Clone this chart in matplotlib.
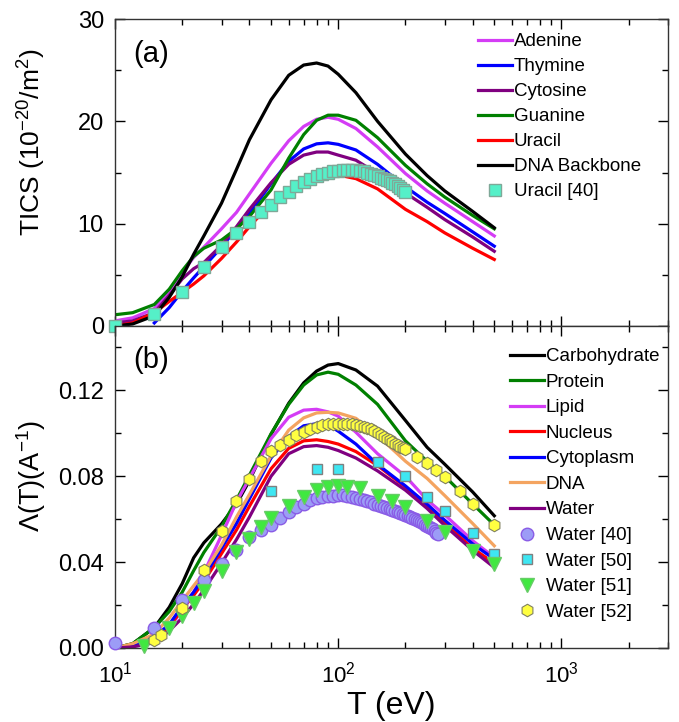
import matplotlib
matplotlib.use('Agg')
import matplotlib.pyplot as plt
from matplotlib.ticker import MultipleLocator, LogLocator, NullFormatter, LogFormatterMathtext, FormatStrFormatter

plt.rcParams['font.family'] = ['Liberation Sans', 'DejaVu Sans']
plt.rcParams['mathtext.fontset'] = 'custom'
plt.rcParams['mathtext.rm'] = 'Liberation Sans'
plt.rcParams['mathtext.it'] = 'Liberation Sans:italic'
plt.rcParams['mathtext.bf'] = 'Liberation Sans:bold'
plt.rcParams['mathtext.default'] = 'regular'

# ---------------- data: panel (a) ----------------
T_lines = [10, 12, 15, 17.5, 20, 22.5, 25, 30, 35, 40, 50, 60, 70, 80, 90, 100, 120, 150, 200, 250, 300, 400, 500]
T_thymine = [15, 17.5, 20, 22.5, 25, 30, 35, 40, 50, 60, 70, 80, 90, 100, 120, 150, 200, 250, 300, 400, 500]

adenine = [0.5, 0.8, 1.7, 3.4, 5.2, 6.7, 7.7, 9.5, 11.1, 12.9, 15.9, 18.1, 19.5, 20.2, 20.4, 20.2, 19.3, 17.5, 14.9, 13.2, 12.0, 10.2, 8.8]
thymine = [0.3, 1.8, 3.4, 4.7, 5.8, 7.7, 9.5, 11.0, 13.9, 16.1, 17.3, 17.8, 17.9, 17.75, 17.2, 15.8, 13.6, 12.1, 11.0, 9.2, 7.8]
cytosine = [0.3, 0.5, 1.3, 3.0, 4.6, 5.6, 6.2, 7.9, 9.7, 11.4, 14.0, 15.8, 16.7, 17.0, 17.0, 16.7, 16.2, 14.9, 13.0, 11.6, 10.4, 8.7, 7.3]
guanine = [1.1, 1.3, 2.1, 3.6, 5.4, 6.8, 7.6, 8.4, 9.5, 10.7, 13.3, 16.4, 18.7, 20.1, 20.6, 20.6, 20.1, 18.4, 15.7, 13.9, 12.6, 10.8, 9.5]
uracil = [0.0, 0.3, 1.3, 2.4, 3.3, 4.1, 4.9, 6.6, 8.2, 9.7, 12.0, 13.4, 14.2, 14.6, 14.75, 14.75, 14.4, 13.4, 11.4, 10.2, 9.1, 7.6, 6.5]
dna_backbone = [0.0, 0.2, 1.0, 2.8, 4.8, 7.0, 8.8, 12.0, 15.3, 18.2, 22.1, 24.5, 25.5, 25.7, 25.4, 24.6, 22.8, 20.0, 16.8, 14.7, 13.2, 11.2, 9.6]

T_uracil40 = [10, 15, 20, 25, 30, 35, 40, 45, 50, 55, 60, 65, 70, 75, 80, 85, 90, 95, 100,
              105, 110, 115, 120, 125, 130, 135, 140, 145, 150, 155, 160, 165, 170, 175, 180, 185, 190, 195, 200]
uracil40 = [0.0, 1.2, 3.3, 5.8, 7.75, 9.1, 10.2, 11.1, 11.8, 12.6, 13.1, 13.7, 14.1, 14.4, 14.7, 14.9, 15.0, 15.1, 15.1,
            15.2, 15.2, 15.2, 15.2, 15.15, 15.1, 15.0, 14.9, 14.8, 14.65, 14.5, 14.4, 14.3, 14.15, 14.0, 13.85, 13.7, 13.5, 13.3, 13.1]

# ---------------- data: panel (b) ----------------
carbohydrate = [0.0, 0.002, 0.0095, 0.019, 0.030, 0.042, 0.049, 0.0578, 0.067, 0.078, 0.0995, 0.114, 0.1235, 0.129, 0.1318, 0.1325, 0.1295, 0.122, 0.106, 0.0935, 0.0856, 0.0727, 0.0616]
protein = [0.0, 0.002, 0.0095, 0.017, 0.026, 0.036, 0.0445, 0.0565, 0.069, 0.0805, 0.0998, 0.1135, 0.1225, 0.1272, 0.1285, 0.1275, 0.1225, 0.1135, 0.0965, 0.087, 0.080, 0.0671, 0.0573]
lipid = [0.0, 0.001, 0.004, 0.0095, 0.0175, 0.026, 0.035, 0.0525, 0.068, 0.079, 0.0975, 0.1075, 0.1108, 0.1112, 0.110, 0.108, 0.1005, 0.0905, 0.080, 0.069, 0.062, 0.050, 0.0422]
nucleus = [0.0, 0.001, 0.004, 0.010, 0.018, 0.0245, 0.031, 0.044, 0.055, 0.066, 0.0835, 0.093, 0.0965, 0.097, 0.0962, 0.095, 0.0915, 0.085, 0.075, 0.0665, 0.058, 0.0465, 0.0394]
cytoplasm = [0.0, 0.001, 0.005, 0.011, 0.0195, 0.026, 0.033, 0.0465, 0.058, 0.0695, 0.0885, 0.0985, 0.1035, 0.1045, 0.104, 0.101, 0.095, 0.0855, 0.0755, 0.067, 0.0595, 0.0485, 0.0414]
dna = [0.0, 0.002, 0.0065, 0.014, 0.022, 0.029, 0.035, 0.048, 0.061, 0.0715, 0.0895, 0.1015, 0.1072, 0.1095, 0.1098, 0.1095, 0.107, 0.099, 0.087, 0.079, 0.071, 0.058, 0.0476]
water = [0.0, 0.0005, 0.0025, 0.008, 0.014, 0.0205, 0.027, 0.0395, 0.0505, 0.061, 0.080, 0.0905, 0.0938, 0.0943, 0.0935, 0.092, 0.0885, 0.0825, 0.0735, 0.065, 0.057, 0.0455, 0.0375]

T_w40 = [10, 15, 20, 25, 30, 35, 40, 45, 50, 55, 60, 65, 70, 75, 80, 85, 90, 95, 100, 105, 110, 115, 120, 125,
         130, 135, 140, 145, 150, 155, 160, 165, 170, 175, 180, 185, 190, 195, 200, 205, 210, 215, 220, 225,
         230, 235, 240, 245, 250, 255, 260, 265, 270, 275, 280]
w40 = [0.0025, 0.0095, 0.0225, 0.0318, 0.039, 0.0456, 0.0518, 0.0548, 0.0574, 0.0605, 0.0635, 0.0655, 0.0673, 0.0688,
       0.0697, 0.0703, 0.0707, 0.071, 0.0712, 0.0712, 0.071, 0.0705, 0.070, 0.0694, 0.0688, 0.0683, 0.0678, 0.0672,
       0.0667, 0.0662, 0.0657, 0.0652, 0.0648, 0.0644, 0.064, 0.0635, 0.063, 0.0625, 0.062, 0.0615, 0.061, 0.0605,
       0.060, 0.0595, 0.059, 0.0585, 0.058, 0.0575, 0.057, 0.0565, 0.056, 0.0553, 0.0545, 0.0538, 0.053]

T_w50 = [50, 80, 100, 150, 200, 250, 300, 400, 500]
w50 = [0.0733, 0.0834, 0.0834, 0.0868, 0.080, 0.0702, 0.064, 0.0538, 0.0437]

T_w51 = [13.5, 17.5, 20, 22.5, 25, 30, 35, 40, 45, 50, 60, 70, 80, 90, 100, 110, 125, 150, 175, 200, 250, 300, 400, 500]
w51 = [0.001, 0.0095, 0.015, 0.021, 0.0266, 0.036, 0.0445, 0.0507, 0.0562, 0.0606, 0.0663, 0.0702, 0.0738, 0.075,
       0.0756, 0.0752, 0.0746, 0.071, 0.0686, 0.0655, 0.059, 0.054, 0.0453, 0.0391]

T_w52 = [15, 16, 20, 25, 30, 35, 40, 45, 50, 55, 60, 65, 70, 75, 80, 85, 90, 95, 100, 105, 110, 115, 120, 125, 130,
         135, 140, 145, 150, 155, 160, 165, 170, 175, 180, 185, 190, 195, 200, 225, 250, 275, 300, 350, 400, 500]
w52 = [0.0035, 0.0062, 0.0188, 0.0363, 0.0546, 0.0686, 0.0788, 0.087, 0.0917, 0.0945, 0.097, 0.0992, 0.1005, 0.102,
       0.103, 0.1038, 0.1043, 0.1045, 0.1045, 0.1045, 0.1044, 0.1042, 0.104, 0.1035, 0.103, 0.1025, 0.1018, 0.101,
       0.100, 0.0993, 0.0985, 0.0975, 0.0968, 0.096, 0.095, 0.0945, 0.0937, 0.093, 0.0928, 0.0892, 0.0862, 0.083,
       0.0795, 0.073, 0.0671, 0.0574]

# ---------------- styles ----------------
C_MAG = '#D43CF5'
C_BLUE = '#0000FF'
C_PURP = '#800080'
C_GREEN = '#008000'
C_RED = '#FF0000'
C_BLACK = '#000000'
C_ORANGE = '#F4A460'
LW = 2.3

W, H = 679, 722
fig = plt.figure(figsize=(W / 100, H / 100), dpi=100)
L, R = 115, 668
ax1 = fig.add_axes([L / W, 1 - 326 / H, (R - L) / W, (326 - 19) / H])
ax2 = fig.add_axes([L / W, 1 - 648 / H, (R - L) / W, (648 - 326) / H])

# panel (a)
ax1.plot(T_lines, adenine, color=C_MAG, lw=LW, label='Adenine')
ax1.plot(T_thymine, thymine, color=C_BLUE, lw=LW, label='Thymine')
ax1.plot(T_lines, cytosine, color=C_PURP, lw=LW, label='Cytosine')
ax1.plot(T_lines, guanine, color=C_GREEN, lw=LW, label='Guanine')
ax1.plot(T_lines, uracil, color=C_RED, lw=LW, label='Uracil')
ax1.plot(T_lines, dna_backbone, color=C_BLACK, lw=LW, label='DNA Backbone')
ax1.plot(T_uracil40, uracil40, ls='none', marker='s', ms=8, mfc='#55F0C8', mec='#7FA898', mew=1.0,
         label='Uracil [40]', clip_on=False, zorder=5)

# panel (b)
ax2.plot(T_lines, carbohydrate, color=C_BLACK, lw=LW, label='Carbohydrate')
ax2.plot(T_lines, protein, color=C_GREEN, lw=LW, label='Protein')
ax2.plot(T_lines, lipid, color=C_MAG, lw=LW, label='Lipid')
ax2.plot(T_lines, nucleus, color=C_RED, lw=LW, label='Nucleus')
ax2.plot(T_lines, cytoplasm, color=C_BLUE, lw=LW, label='Cytoplasm')
ax2.plot(T_lines, dna, color=C_ORANGE, lw=LW, label='DNA')
ax2.plot(T_lines, water, color=C_PURP, lw=LW, label='Water')
ax2.plot(T_w40, w40, ls='none', marker='o', ms=9, mfc='#9C9CF6', mec='#8A5CE6', mew=1.0,
         label='Water [40]', clip_on=False, zorder=5)
ax2.plot(T_w50, w50, ls='none', marker='s', ms=7.5, mfc='#3EE6F2', mec='#808080', mew=1.0,
         label='Water [50]', clip_on=False, zorder=6)
ax2.plot(T_w51, w51, ls='none', marker='v', ms=9.5, mfc='#40E840', mec='#66CC66', mew=1.0,
         label='Water [51]', clip_on=False, zorder=6)
ax2.plot(T_w52, w52, ls='none', marker='h', ms=9, mfc='#FFFF40', mec='#808060', mew=0.8,
         label='Water [52]', clip_on=False, zorder=7)

for ax in (ax1, ax2):
    ax.set_xscale('log')
    ax.set_xlim(10, 3000)
    ax.xaxis.set_major_locator(LogLocator(base=10, numticks=10))
    ax.xaxis.set_minor_locator(LogLocator(base=10, subs=range(2, 10), numticks=20))
    ax.xaxis.set_minor_formatter(NullFormatter())
    ax.tick_params(which='both', direction='in', top=True, right=True, width=1.0)
    ax.tick_params(axis='y', which='major', labelsize=17, pad=8)
    ax.tick_params(axis='x', which='major', labelsize=16, pad=10)
    ax.tick_params(which='major', length=7)
    ax.tick_params(which='minor', length=4)
    for sp in ax.spines.values():
        sp.set_linewidth(1.0)
        sp.set_color('#333333')

ax1.set_ylim(0, 30)
ax1.yaxis.set_major_locator(MultipleLocator(10))
ax1.yaxis.set_minor_locator(MultipleLocator(5))
ax1.tick_params(axis='x', labelbottom=False)
ax1.set_ylabel('TICS (10$^{-20}$/m$^{2}$)', fontsize=19)
ax1.yaxis.set_label_coords(-0.122, 0.6)
ax1.text(0.033, 0.885, '(a)', transform=ax1.transAxes, fontsize=21, va='center', ha='left')

ax2.set_ylim(0, 0.15)
ax2.yaxis.set_major_locator(MultipleLocator(0.04))
ax2.yaxis.set_minor_locator(MultipleLocator(0.02))
ax2.yaxis.set_major_formatter(FormatStrFormatter('%.2f'))
ax2.xaxis.set_major_formatter(LogFormatterMathtext())
ax2.set_ylabel(r'$\mathit{Λ}$(T)(A$^{-1}$)', fontsize=19.5)
ax2.yaxis.set_label_coords(-0.122, 0.534)
ax2.set_xlabel('T (eV)', fontsize=23)
ax2.xaxis.label.set_va('baseline')
ax2.xaxis.set_label_coords(0.5, (648 - 714) / 322)
ax2.text(0.033, 0.895, '(b)', transform=ax2.transAxes, fontsize=21, va='center', ha='left')

leg1 = ax1.legend(loc='upper left', bbox_to_anchor=((478 - L) / (R - L), (326 - 33) / 307), frameon=False,
                  fontsize=13.5, handlelength=1.8, handletextpad=0.1, labelspacing=0.42, borderpad=0,
                  borderaxespad=0)
leg2 = ax2.legend(loc='upper left', bbox_to_anchor=((510 - L) / (R - L), (648 - 348) / 322), frameon=False,
                  fontsize=13.5, handlelength=1.8, handletextpad=0.1, labelspacing=0.45, borderpad=0,
                  borderaxespad=0)

fig.savefig('out.png', dpi=100)
